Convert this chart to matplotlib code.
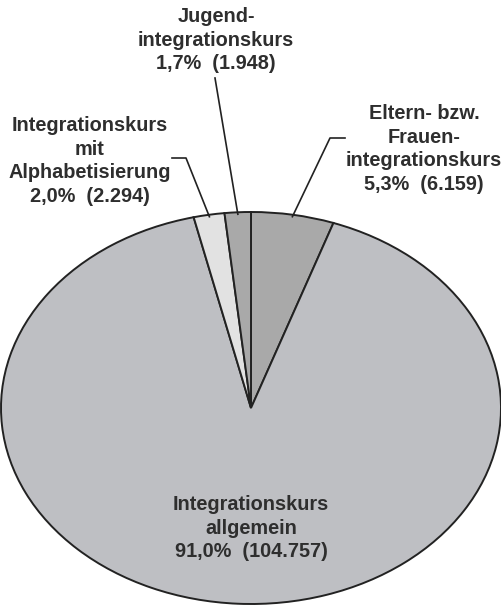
import numpy as np
import matplotlib.pyplot as plt

labels = ["Eltern- bzw.\nFrauen-\nintegrationskurs", "Integrationskurs\nallgemein",
          "Integrationskurs\nmit\nAlphabetisierung", "Jugend-\nintegrationskurs"]
counts = [6159, 104757, 2294, 1948]
shares = ["5,3%", "91,0%", "2,0%", "1,7%"]
colors = ["#a9a9a9", "#bebfc3", "#e2e2e2", "#a9a9a9"]

W, H = 502, 607
CX, CY, RX, RY = 251, 408, 250, 196


def px(x, y):
    # pixel position -> data coords of the unit pie
    return (x - CX) / RX, (CY - y) / RY


fig = plt.figure(figsize=(W / 100, H / 100), dpi=100)
ax = fig.add_axes([0, 0, 1, 1])
wedges, _ = ax.pie(counts, startangle=90, counterclock=False, colors=colors,
                   wedgeprops=dict(edgecolor="#222222", linewidth=1.4))
ax.set_aspect("auto")
ax.set_xlim(px(0, 0)[0], px(W, 0)[0])
ax.set_ylim(px(0, H)[1], px(0, 0)[1])
ax.axis("off")


def fmt(n):
    return f"{n:,}".replace(",", ".")


txt = dict(ha="center", va="center", fontsize=14.3, fontweight="bold",
           color="#2e2e2e", family="Liberation Sans", linespacing=1.3)

# label placement (pixel coords), leader line start points
place = [(424, 149, [(345, 138), (330, 138)]),
         (251, 528, None),
         (90, 161, [(172, 158), (186, 158)]),
         (216, 40, [(215, 78)])]

for w, lab, n, s, (lx, ly, lead) in zip(wedges, labels, counts, shares, place):
    ax.text(*px(lx, ly), f"{lab}\n{s}  ({fmt(n)})", **txt)
    if lead:
        mid = np.deg2rad((w.theta1 + w.theta2) / 2)
        pts = [px(*p) for p in lead] + [(0.99 * np.cos(mid), 0.99 * np.sin(mid))]
        xs, ys = zip(*pts)
        ax.plot(xs, ys, color="#222222", lw=1.2)

fig.savefig("out.png", dpi=100)
